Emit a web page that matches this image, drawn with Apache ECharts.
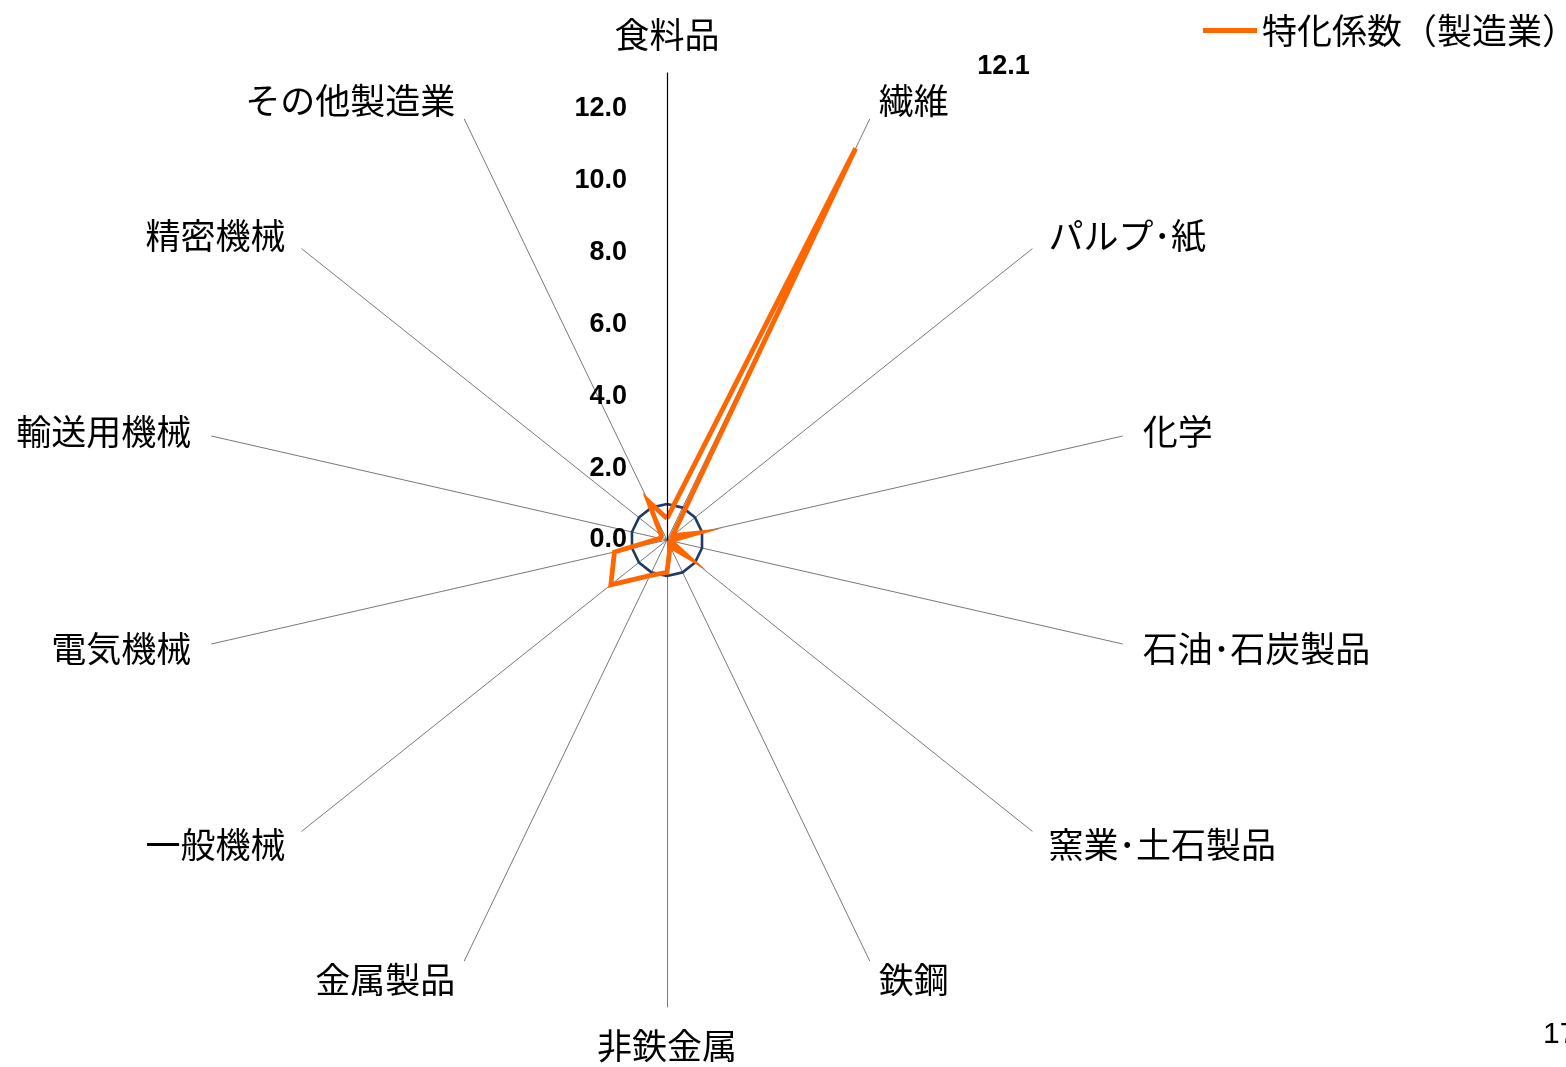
<!DOCTYPE html>
<html><head><meta charset="utf-8">
<script src="https://cdn.jsdelivr.net/npm/echarts@6/dist/echarts.min.js"></script>
<style>html,body{margin:0;padding:0;background:#fff}#c{width:1566px;height:1067px}</style>
</head><body><div id="c"></div>
<script>
// ---- data ----
const categories = ['食料品', '繊維', 'パルプ･紙', '化学', '石油･石炭製品', '窯業･土石製品', '鉄鋼',
  '非鉄金属', '金属製品', '一般機械', '電気機械', '輸送用機械', '精密機械', 'その他製造業'];
const specializationValues = [0.6, 12.1, 0.2, 0.85, 0.1, 0.75, 0.2, 0.9, 1.1, 2.0, 1.5, 0.2, 0.2, 1.2];
const referenceValues = [1, 1, 1, 1, 1, 1, 1, 1, 1, 1, 1, 1, 1, 1];
const valueTicks = [0, 2, 4, 6, 8, 10, 12];
const axisMin = 0;
const axisMax = 13;
const seriesName = '特化係数（製造業）';
const labelledCategory = '繊維';
const pageNumber = '17';

// ECharts radar places indicators counter-clockwise; reorder so they run clockwise from the top
const order = [0].concat(categories.map((_, i) => i).slice(1).reverse());
const reorder = arr => order.map(i => arr[i]);
const indicators = order.map(i => ({ name: categories[i], min: axisMin, max: axisMax }));
const labelledValue = specializationValues[categories.indexOf(labelledCategory)];

const CJK = "'Noto Sans CJK JP', 'Noto Sans', sans-serif";
const NUM = "'Liberation Sans', Arial, sans-serif";
const center = [667, 540];
const radius = 467;

const chart = echarts.init(document.getElementById('c'), null, { renderer: 'canvas' });
chart.setOption({
  animation: false,
  backgroundColor: '#ffffff',
  legend: {
    left: 1203, top: 13,
    padding: 0,
    data: [seriesName],
    icon: 'rect',
    itemWidth: 54, itemHeight: 5,
    textStyle: { fontFamily: CJK, fontSize: 35, color: '#000' }
  },
  radar: {
    center: center,
    radius: radius,
    startAngle: 90,
    shape: 'polygon',
    splitNumber: 1,
    indicator: indicators,
    nameGap: 21,
    axisName: { color: '#000', fontFamily: CJK, fontSize: 35 },
    axisLine: { lineStyle: { color: '#555555', width: 0.8 } },
    splitLine: { show: false },
    splitArea: { show: false },
    axisTick: { show: false },
    axisLabel: { show: false }
  },
  polar: { center: center, radius: radius },
  angleAxis: { show: false, type: 'value', min: 0, max: 360, startAngle: 90 },
  radiusAxis: {
    type: 'value', min: axisMin, max: axisMax, interval: 2,
    z: 10,
    axisLine: { show: true, lineStyle: { color: '#000', width: 1.2 } },
    axisTick: { show: false },
    splitLine: { show: false },
    splitArea: { show: false },
    axisLabel: {
      show: true, margin: 40, color: '#000', fontWeight: 'bold',
      fontFamily: NUM, fontSize: 27,
      showMaxLabel: false,
      formatter: v => (valueTicks.indexOf(v) >= 0 ? v.toFixed(1) : '')
    }
  },
  series: [
    {
      type: 'radar',
      name: '基準',
      z: 2,
      symbol: 'none',
      lineStyle: { color: '#1f3b63', width: 2.6 },
      itemStyle: { color: '#1f3b63' },
      data: [{ value: reorder(referenceValues), name: '基準' }]
    },
    {
      type: 'radar',
      name: seriesName,
      z: 3,
      symbol: 'circle',
      symbolSize: 0.1,
      itemStyle: { color: '#ff6600' },
      lineStyle: { color: '#ff6600', width: 4.8, join: 'miter', miterLimit: 12 },
      label: {
        show: true,
        position: 'inside',
        offset: [148, -82],
        color: '#000',
        fontWeight: 'bold',
        fontFamily: NUM,
        fontSize: 27,
        formatter: p => {
          const v = Array.isArray(p.value) ? null : p.value;
          return v === labelledValue ? Number(v).toFixed(1) : '';
        }
      },
      data: [{ value: reorder(specializationValues), name: seriesName }]
    }
  ],
  graphic: [
    {
      type: 'text', left: 1543, top: 1020,
      style: { text: pageNumber, fontSize: 30, fill: '#000', fontFamily: "'Liberation Sans', Arial, sans-serif" }
    }
  ]
});
</script>
</body></html>
